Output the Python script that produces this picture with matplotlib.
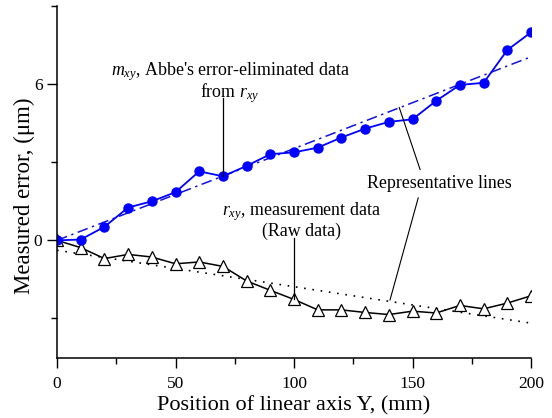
import matplotlib
matplotlib.use("Agg")
import matplotlib.pyplot as plt
import numpy as np
from matplotlib.ticker import MultipleLocator

plt.rcParams['font.family'] = ['Liberation Serif', 'DejaVu Serif']
plt.rcParams['mathtext.fontset'] = 'custom'
plt.rcParams['mathtext.rm'] = 'Liberation Serif'
plt.rcParams['mathtext.it'] = 'Liberation Serif:italic'

positions = [0, 10, 20, 30, 40, 50, 60, 70, 80, 90, 100, 110, 120, 130, 140, 150, 160, 170, 180, 190, 200]
m_xy = [0.0, 0.03, 0.52, 1.26, 1.50, 1.85, 2.65, 2.46, 2.86, 3.31, 3.38, 3.56, 3.95, 4.29, 4.55, 4.65, 5.36, 5.97, 6.05, 7.31, 7.99]
r_xy = [0.0, -0.28, -0.70, -0.54, -0.64, -0.90, -0.83, -1.00, -1.56, -1.92, -2.27, -2.67, -2.67, -2.77, -2.85, -2.72, -2.79, -2.50, -2.63, -2.41, -2.13]
fit_x = [0, 200]
m_fit = [0.0, 7.05]
r_fit = [-0.38, -3.18]

fig = plt.figure(figsize=(5.52, 4.18), dpi=100)
ax = fig.add_axes([0.1033, 0.1447, 0.8587, 0.8409])

ax.plot(fit_x, m_fit, color='#1010e0', lw=1.1, dashes=[7, 3, 1.5, 3])
ax.plot(fit_x, r_fit, color='black', lw=1.2, linestyle=(0, (1, 4)))
ax.plot(positions, r_xy, color='black', lw=1.1, marker='^', markersize=8,
        markerfacecolor='white', markeredgecolor='black', markeredgewidth=0.9)
ax.plot(positions, m_xy, color='#0000ff', lw=1.3, marker='o', markersize=6.5,
        markerfacecolor='#0000ff', markeredgecolor='#0000ff')

ax.set_xlim(0, 200)
ax.set_ylim(-4.5, 9)
ax.xaxis.set_major_locator(MultipleLocator(50))
ax.xaxis.set_minor_locator(MultipleLocator(25))
ax.yaxis.set_major_locator(MultipleLocator(6))
ax.yaxis.set_minor_locator(MultipleLocator(3))
ax.spines['top'].set_visible(False)
ax.spines['right'].set_visible(False)
for s in ['left', 'bottom']:
    ax.spines[s].set_linewidth(1.1)
ax.tick_params(which='major', direction='out', length=7, width=1.0, labelsize=12.5)
ax.tick_params(axis='x', which='major', pad=6)
ax.tick_params(which='minor', direction='out', length=4, width=1.0)

ax.set_xlabel('Position of linear axis Y, (mm)', fontsize=16, labelpad=3)
ax.set_ylabel('Measured error, (\u03bcm)', fontsize=16.5)
ax.yaxis.set_label_coords(-0.047, 0.46)

fs = 12.9
ax.text(73, 6.47, "$m_{xy}$, Abbe's error-eliminated data", fontsize=fs, ha='center', va='center')
ax.text(73, 5.65, "from $r_{xy}$", fontsize=fs, ha='center', va='center')
ax.plot([70, 70], [5.45, 2.46], color='black', lw=0.9)

ax.text(161.4, 2.2, "Representative lines", fontsize=fs, ha='center', va='center')
ax.plot([153.2, 144.4], [2.72, 5.10], color='black', lw=0.8)
ax.plot([152.4, 140.5], [1.63, -2.29], color='black', lw=0.8)

ax.text(103, 1.12, "$r_{xy}$, measurement data", fontsize=fs, ha='center', va='center')
ax.text(103, 0.33, "(Raw data)", fontsize=fs, ha='center', va='center')
ax.plot([100, 100], [0.1, -2.27], color='black', lw=0.9)

fig.savefig('out.png', dpi=100)
